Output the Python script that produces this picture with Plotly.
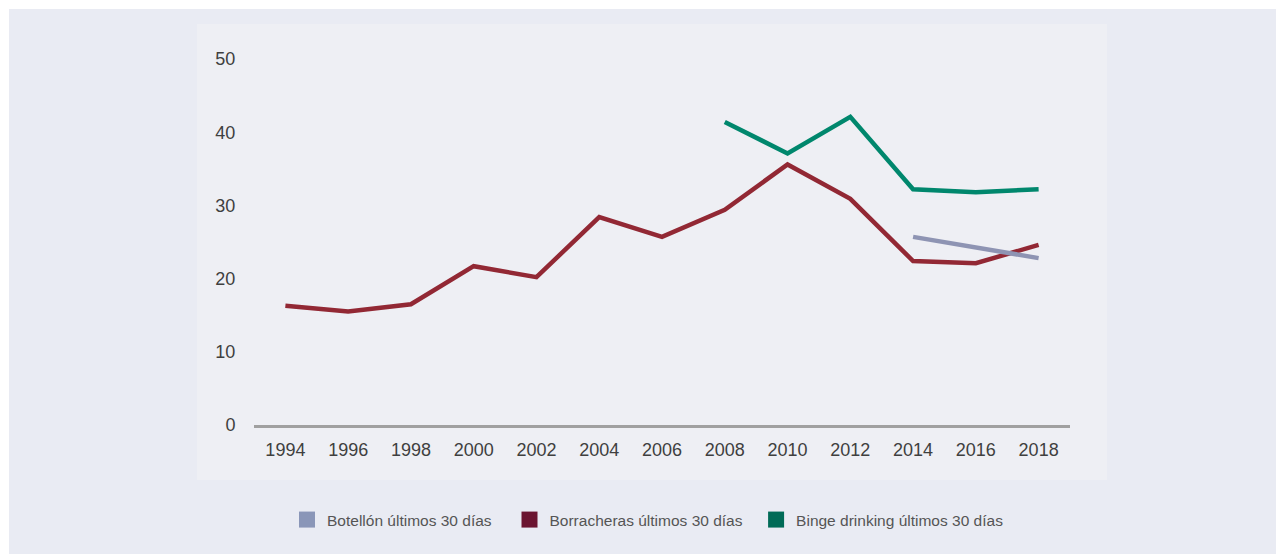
import plotly.graph_objects as go

years = [1994, 1996, 1998, 2000, 2002, 2004, 2006, 2008, 2010, 2012, 2014, 2016, 2018]
borracheras = [16.3, 15.5, 16.5, 21.7, 20.2, 28.4, 25.7, 29.4, 35.6, 30.9, 22.4, 22.1, 24.6]
binge_years = [2008, 2010, 2012, 2014, 2016, 2018]
binge = [41.4, 37.1, 42.1, 32.2, 31.8, 32.2]
botellon_years = [2014, 2016, 2018]
botellon = [25.7, 24.3, 22.8]
y_ticks = [0, 10, 20, 30, 40, 50]

names = ["Botellón últimos 30 días", "Borracheras últimos 30 días", "Binge drinking últimos 30 días"]
line_colors = ["#8E94B3", "#922834", "#00876D"]
swatch_colors = ["#8A96B8", "#6B1430", "#006B57"]

W, H = 1284, 554
OFF = 8  # page body margin
ML, MR, MT, MB = 254 - OFF, 214 + OFF, 59 - OFF, 129 + OFF
PW, PH = W - ML - MR, H - MT - MB


def px_x(p):
    return (p - OFF - ML) / PW


def px_y(p):
    return (H - MB - (p - OFF)) / PH


fig = go.Figure()
fig.add_trace(go.Scatter(x=years, y=borracheras, mode="lines", line=dict(color=line_colors[1], width=4.5),
                         showlegend=False))
fig.add_trace(go.Scatter(x=binge_years, y=binge, mode="lines", line=dict(color=line_colors[2], width=4.5),
                         showlegend=False))
fig.add_trace(go.Scatter(x=botellon_years, y=botellon, mode="lines", line=dict(color=line_colors[0], width=4.5),
                         showlegend=False))

pads = ["\u00a0\u00a0\u00a0", "\u00a0\u00a0", "\u00a0\u00a0"]
for n, c, p in zip(names, swatch_colors, pads):
    fig.add_trace(go.Scatter(x=[None], y=[None], mode="markers", name=n + p,
                             marker=dict(symbol="square", size=17, color=c)))

shapes = [
    dict(type="rect", xref="paper", yref="paper", x0=px_x(OFF), x1=px_x(W + OFF), y0=px_y(OFF), y1=px_y(OFF + 1),
         fillcolor="white", line=dict(width=0), layer="below"),
    dict(type="rect", xref="paper", yref="paper", x0=px_x(OFF), x1=px_x(OFF + 1), y0=px_y(H + OFF), y1=px_y(OFF),
         fillcolor="white", line=dict(width=0), layer="below"),
    dict(type="rect", xref="paper", yref="paper", x0=px_x(197), x1=px_x(1107), y0=px_y(480), y1=px_y(24),
         fillcolor="#EEEFF4", line=dict(width=0), layer="below"),
]

font_family = "Liberation Sans, Arial, sans-serif"
fig.update_layout(
    width=W, height=H,
    margin=dict(l=ML, r=MR, t=MT, b=MB, autoexpand=False),
    paper_bgcolor="#E9EBF3",
    plot_bgcolor="rgba(0,0,0,0)",
    shapes=shapes,
    font=dict(family=font_family, color="#444444"),
    xaxis=dict(range=[1993, 2019], tickvals=years, ticktext=[str(y) for y in years],
               showgrid=False, zeroline=False, showline=True, linecolor="#A0A0A0", linewidth=3,
               ticks="outside", ticklen=6, tickcolor="rgba(0,0,0,0)",
               tickfont=dict(size=18, color="#3F3F3F")),
    yaxis=dict(range=[0, 50], tickvals=y_ticks, showgrid=False, zeroline=False, showline=False,
               ticks="outside", ticklen=14, tickcolor="rgba(0,0,0,0)",
               tickfont=dict(size=18, color="#3F3F3F")),
    legend=dict(orientation="h", x=px_x(287), xanchor="left", y=px_y(520), yanchor="middle",
                font=dict(size=15.5, color="#555555"), bgcolor="rgba(0,0,0,0)", itemsizing="trace"),
)

fig.write_html("out.html")
